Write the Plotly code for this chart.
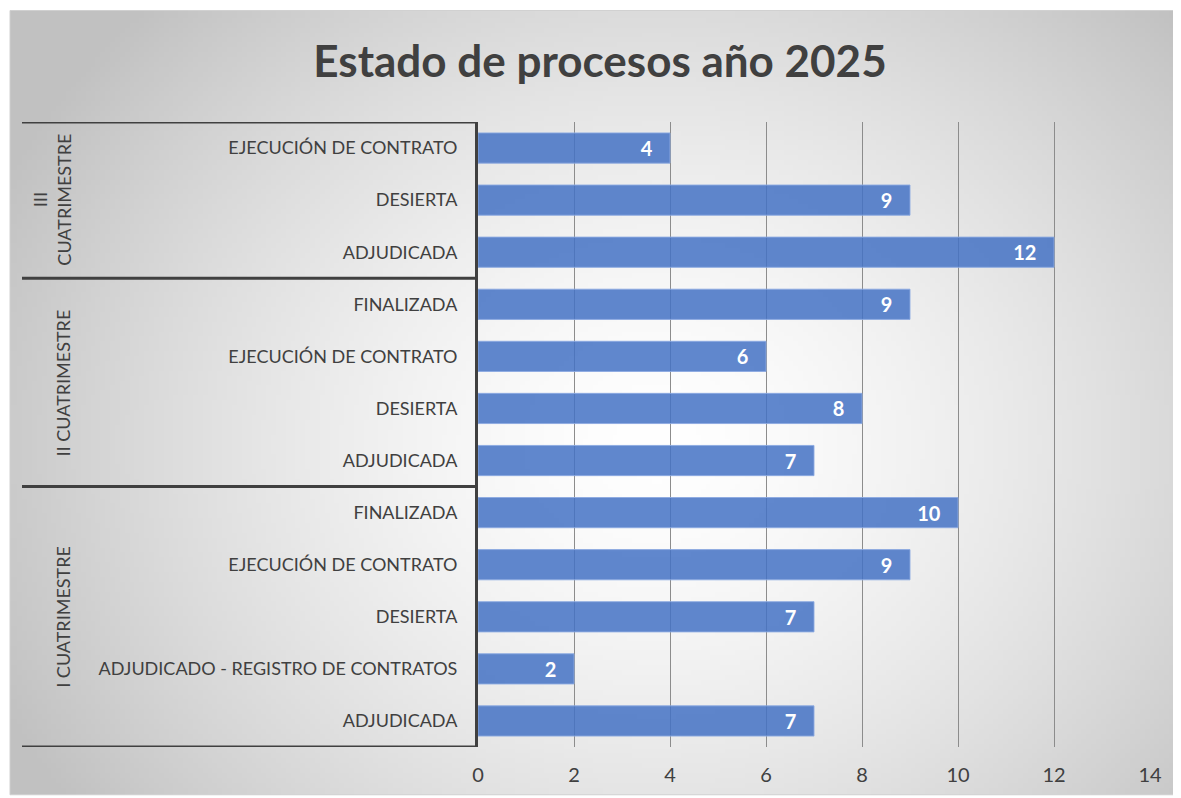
import base64
import struct
import zlib

import numpy as np
import plotly.graph_objects as go

# data, bottom to top
groups = ["I CUATRIMESTRE", "II CUATRIMESTRE", "III<br>CUATRIMESTRE"]
group_labels = [
    ["ADJUDICADA", "ADJUDICADO - REGISTRO DE CONTRATOS", "DESIERTA",
     "EJECUCIÓN DE CONTRATO", "FINALIZADA"],
    ["ADJUDICADA", "DESIERTA", "EJECUCIÓN DE CONTRATO", "FINALIZADA"],
    ["ADJUDICADA", "DESIERTA", "EJECUCIÓN DE CONTRATO"],
]
group_values = [
    [7, 2, 7, 9, 10],
    [7, 8, 6, 9],
    [12, 9, 4],
]
x_ticks = [0, 2, 4, 6, 8, 10, 12, 14]

labels = [l for g in group_labels for l in g]
values = [v for g in group_values for v in g]
pos = list(range(len(labels)))

TEXT = "#404040"
FONT = "Lato"


def gradient_png(w=240, h=160):
    yy, xx = np.mgrid[0:h, 0:w]
    cx, cy = w * 0.55, h * 0.55
    r = np.sqrt(((xx - cx) / (w * 0.62)) ** 2 + ((yy - cy) / (h * 0.8)) ** 2)
    r = np.clip(r, 0, 1)
    v = (255 - 62 * r ** 1.5).astype(np.uint8)
    raw = b"".join(b"\x00" + bytes(np.repeat(row, 3)) for row in v)

    def chunk(tag, data):
        c = struct.pack(">I", len(data)) + tag + data
        return c + struct.pack(">I", zlib.crc32(tag + data) & 0xffffffff)

    png = b"\x89PNG\r\n\x1a\n"
    png += chunk(b"IHDR", struct.pack(">IIBBBBB", w, h, 8, 2, 0, 0, 0))
    png += chunk(b"IDAT", zlib.compress(raw, 9))
    png += chunk(b"IEND", b"")
    return "data:image/png;base64," + base64.b64encode(png).decode()


# page has an 8px body margin; work in screen pixels and shift
OFF = 8
W, H = 1181 - OFF, 798 - OFF
ml, mr, mt, mb = 478 - OFF, 31, 122 - OFF, 56 - OFF
pw, ph = W - ml - mr, H - mt - mb


def px_x(p):
    return (p - OFF - ml) / pw


def px_y(p):
    return (H - mb - (p - OFF)) / ph


fig = go.Figure()

fig.add_trace(go.Bar(
    x=values, y=pos, orientation="h",
    marker=dict(color="rgba(68,114,196,0.85)",
                line=dict(color="rgba(140,170,225,0.9)", width=1)),
    text=values, texttemplate="%{x}\u00a0\u00a0\u00a0",
    textposition="inside", insidetextanchor="end", textangle=0,
    textfont=dict(color="white", size=20, family=FONT, weight="bold"),
    width=0.58, hoverinfo="x+y",
))

shapes = []
annotations = []
# group dividers and labels
start = 0
bounds = [-0.5]
for g, labs in zip(groups, group_labels):
    end = start + len(labs)
    bounds.append(end - 0.5)
    annotations.append(dict(
        text=g, x=px_x(76), y=(start + end - 1) / 2, xref="paper", yref="y",
        textangle=-90, showarrow=False, font=dict(size=18, color=TEXT, family=FONT),
        xanchor="right", yanchor="middle",
    ))
    start = end
for b in bounds:
    shapes.append(dict(type="line", xref="paper", yref="y", x0=px_x(22), x1=0,
                       y0=b, y1=b, line=dict(color=TEXT, width=3)))

# chart border
shapes.append(dict(type="rect", xref="paper", yref="paper",
                   x0=px_x(10), x1=px_x(1181), y0=px_y(798), y1=px_y(10),
                   line=dict(color="#d0d0d0", width=1), layer="below"))

fig.update_layout(
    width=W, height=H,
    margin=dict(l=ml, r=mr, t=mt, b=mb),
    paper_bgcolor="white",
    plot_bgcolor="rgba(0,0,0,0)",
    title=dict(text="<b>Estado de procesos año 2025</b>",
               x=(600 - OFF) / W, xref="container", xanchor="center",
               y=(H - (62 - OFF)) / H, yref="container", yanchor="middle",
               font=dict(size=44, color=TEXT, family=FONT)),
    showlegend=False,
    bargap=0.42,
    shapes=shapes,
    annotations=annotations,
    images=[dict(source=gradient_png(), xref="paper", yref="paper",
                 x=px_x(10), y=px_y(10), sizex=px_x(1181) - px_x(10),
                 sizey=px_y(10) - px_y(798), sizing="stretch",
                 xanchor="left", yanchor="top", layer="below")],
)

fig.update_xaxes(range=[0, 14], tickvals=x_ticks, showgrid=True,
                 gridcolor="#8c8c8c", gridwidth=1, zeroline=False,
                 tickfont=dict(size=20, color=TEXT, family=FONT),
                 ticks="outside", ticklen=10, tickcolor="rgba(0,0,0,0)",
                 showline=False)
fig.update_yaxes(range=[-0.5, 11.5], tickvals=pos, ticktext=labels,
                 showgrid=False, zeroline=False, showline=True,
                 linecolor=TEXT, linewidth=3,
                 tickfont=dict(size=18, color=TEXT, family=FONT),
                 ticks="outside", ticklen=14, tickcolor="rgba(0,0,0,0)")

fig.write_html("out.html")
